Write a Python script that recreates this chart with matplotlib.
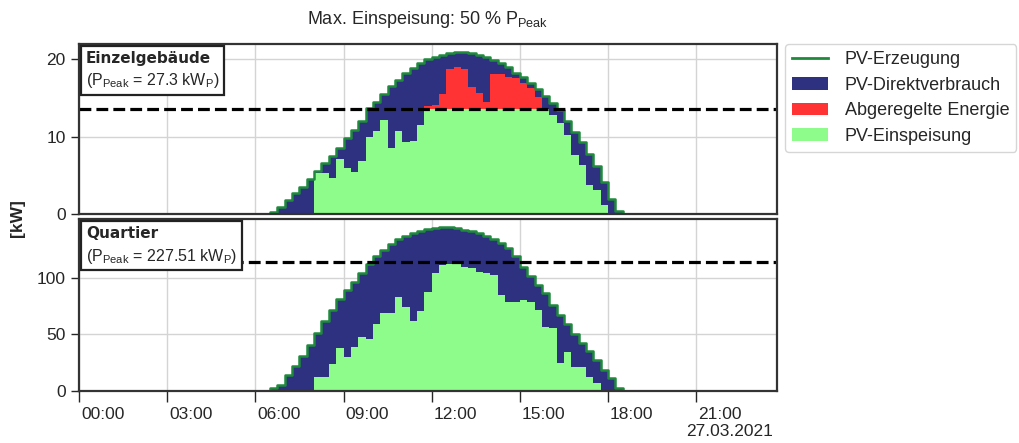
import numpy as np
import matplotlib
matplotlib.use("Agg")
import matplotlib.pyplot as plt
import matplotlib.transforms as mtransforms
from matplotlib.offsetbox import TextArea, VPacker, AnchoredOffsetbox
from matplotlib.patches import Patch
from matplotlib.lines import Line2D

plt.rcParams['font.family'] = ['Liberation Sans', 'DejaVu Sans']
plt.rcParams['mathtext.fontset'] = 'custom'
plt.rcParams['mathtext.rm'] = 'Liberation Sans'
plt.rcParams['mathtext.it'] = 'Liberation Sans:italic'
plt.rcParams['mathtext.bf'] = 'Liberation Sans:bold'

# ---------------- data (quarter-hour values, starting 06:00) ----------------
first_quarter = 24  # 06:00
einzel_erzeugung = [0, 0, 0.3, 0.9, 1.8, 2.7, 3.5, 4.5, 5.6, 6.6, 7.5, 8.5, 9.8, 10.9,
                    12.0, 13.7, 14.5, 15.5, 16.5, 17.4, 18.2, 18.9, 19.5, 20.0, 20.3,
                    20.6, 20.8, 20.9, 20.9, 20.8, 20.6, 20.3, 19.9, 19.5, 19.0, 18.3,
                    17.7, 17.0, 16.2, 15.3, 14.4, 13.5, 12.0, 10.6, 9.3, 7.8, 6.2, 4.2,
                    1.9, 0.4, 0, 0]
einzel_einspeisung = [0, 0, 0, 0, 0, 0, 0, 0, 5.3, 5.3, 4.7, 7.1, 5.9, 5.4, 6.8, 9.9,
                      10.7, 12.2, 8.6, 10.7, 9.3, 9.5, 11.5, 13.65, 13.65, 13.65, 13.65,
                      13.65, 13.65, 13.65, 13.65, 13.65, 13.65, 13.65, 13.65, 13.65,
                      13.65, 13.65, 13.65, 13.65, 12.8, 11.8, 10.2, 7.6, 6.3, 3.8, 3.1,
                      1.2, 0, 0, 0, 0]
einzel_abgeregelt = [0, 0, 0, 0, 0, 0, 0, 0, 0, 0, 0, 0, 0, 0, 0, 0, 0, 0, 0, 0, 0, 0, 0,
                     0.35, 0.45, 1.9, 5.1, 5.4, 5.1, 2.8, 2.0, 0.9, 4.45, 4.45, 4.05,
                     3.95, 3.25, 2.65, 1.55, 0, 0, 0, 0, 0, 0, 0, 0, 0, 0, 0, 0, 0]
quartier_erzeugung = [0, 0, 2.4, 5.4, 14.5, 22, 30.5, 40.8, 51, 62, 71.5, 81, 89, 96.4,
                      104.2, 112, 119.5, 125, 129.5, 134, 137.3, 139.8, 141.5, 143,
                      144.2, 144.5, 144.5, 143.8, 142.3, 141, 139.5, 136.6, 134.5,
                      130.5, 126.3, 119, 110, 102, 94, 86.6, 76, 67, 59, 50.3, 42.3,
                      35, 27, 18.9, 11.3, 2.8, 0, 0]
quartier_einspeisung = [0, 0, 0, 0, 0, 0, 0, 0, 12.7, 12.7, 23.7, 37.9, 30.2, 39.3, 47.5,
                        46.2, 58.8, 69, 69, 83, 74, 62, 71, 87.5, 104.5, 111, 112.4,
                        112.4, 110, 109, 105.6, 104.1, 102.7, 85, 79, 79, 80.5, 79,
                        71.7, 56.9, 55.5, 24.5, 34.8, 21.5, 21.5, 12.7, 6.8, 0, 0, 0,
                        0, 0]
quartier_abgeregelt = [0] * 52

peak_einzel = 27.3
peak_quartier = 227.51
max_feed_share = 0.5

tick_hours = [0, 3, 6, 9, 12, 15, 18, 21]
tick_labels = ["00:00", "03:00", "06:00", "09:00", "12:00", "15:00", "18:00", "21:00"]
date_label = "27.03.2021"
legend_labels = ["PV-Erzeugung", "PV-Direktverbrauch", "Abgeregelte Energie", "PV-Einspeisung"]

# ---------------- styling ----------------
c_line = '#1f8a3c'
c_navy = '#2e3180'
c_red = '#ff3334'
c_lgreen = '#8dfc8a'
c_text = '#262626'


def full_day(vals):
    arr = np.zeros(96)
    arr[first_quarter:first_quarter + len(vals)] = vals
    return np.append(arr, arr[-1])


x = np.arange(97) * 0.25

fig = plt.figure(figsize=(10.19, 4.43), dpi=100)
W, H = 1019, 443
ax1 = fig.add_axes([79 / W, 1 - 214 / H, 698 / W, 170 / H])
ax2 = fig.add_axes([79 / W, 1 - 391 / H, 698 / W, 172 / H])

panels = [
    (ax1, einzel_erzeugung, einzel_einspeisung, einzel_abgeregelt, peak_einzel,
     "Einzelgebäude", r"(P$_{\mathrm{Peak}}$ = 27.3 kW$_{\mathrm{P}}$)", 22, [0, 10, 20]),
    (ax2, quartier_erzeugung, quartier_einspeisung, quartier_abgeregelt, peak_quartier,
     "Quartier", r"(P$_{\mathrm{Peak}}$ = 227.51 kW$_{\mathrm{P}}$)", 152, [0, 50, 100]),
]

for ax, gen, feed, curt, peak, name, sub, ymax, yt in panels:
    g = full_day(gen)
    f = full_day(feed)
    c = full_day(curt)
    ax.fill_between(x, 0, g, step='post', color=c_navy, lw=0, zorder=1.2)
    ax.fill_between(x, 0, f + c, step='post', color=c_red, lw=0, zorder=1.3)
    ax.fill_between(x, 0, f, step='post', color=c_lgreen, lw=0, zorder=1.4)
    ax.step(x, g, where='post', color=c_line, lw=1.8, zorder=1.6)
    ax.axhline(peak * max_feed_share, color='black', lw=2.3, ls='--', zorder=1.8)
    ax.set_xlim(0, 23.75)
    ax.set_ylim(0, ymax)
    ax.set_yticks(yt)
    ax.set_xticks(tick_hours)
    ax.grid(True, color='#d4d4d4', lw=1.0, zorder=0)
    ax.set_axisbelow(True)
    for s in ax.spines.values():
        s.set_color('#333333')
        s.set_linewidth(1.6)
        s.set_zorder(3)
    ax.tick_params(axis='both', colors=c_text, labelsize=12.5, length=6, width=1,
                   direction='out')
    ax.tick_params(axis='x', length=8)

    t1 = TextArea(name, textprops=dict(family='DejaVu Sans', weight='bold',
                                       size=11, color=c_text))
    t2 = TextArea(sub, textprops=dict(size=11.5, color=c_text))
    box = VPacker(children=[t1, t2], align='left', pad=0, sep=4)
    anc = AnchoredOffsetbox(loc='upper left', child=box, pad=0.35, borderpad=0.15,
                            frameon=True)
    anc.patch.set_boxstyle('square', pad=0)
    anc.patch.set_edgecolor('#222222')
    anc.patch.set_linewidth(1.6)
    anc.patch.set_facecolor('white')
    anc.set_zorder(5)
    ax.add_artist(anc)

ax1.set_xticklabels([])
ax1.tick_params(axis='x', length=0)
ax2.set_xticklabels(tick_labels)
shift = mtransforms.ScaledTranslation(2 / 100, 0, fig.dpi_scale_trans)
for lab in ax2.get_xticklabels():
    lab.set_horizontalalignment('left')
    lab.set_transform(lab.get_transform() + shift)

fig.text(428 / W, 1 - 20 / H, r"Max. Einspeisung: 50 % P$_{\mathrm{Peak}}$",
         ha='center', va='center', fontsize=13, color=c_text)
fig.text(17 / W, 1 - 218 / H, "[kW]", rotation=90, ha='center', va='center',
         fontsize=12.5, weight='bold', color=c_text)
fig.text(773 / W, 1 - 432 / H, date_label, ha='right', va='center',
         fontsize=12.5, color=c_text)

handles = [Line2D([], [], color=c_line, lw=2),
           Patch(facecolor=c_navy), Patch(facecolor=c_red), Patch(facecolor=c_lgreen)]
leg = fig.legend(handles, legend_labels, loc='upper left',
                 bbox_to_anchor=(785 / W, 1 - 44 / H), borderaxespad=0,
                 fontsize=13, handlelength=2.0, handletextpad=0.9, labelspacing=0.47,
                 frameon=True, fancybox=True, edgecolor='#cccccc', borderpad=0.4)
for t in leg.get_texts():
    t.set_color(c_text)

fig.savefig("out.png", dpi=100)
